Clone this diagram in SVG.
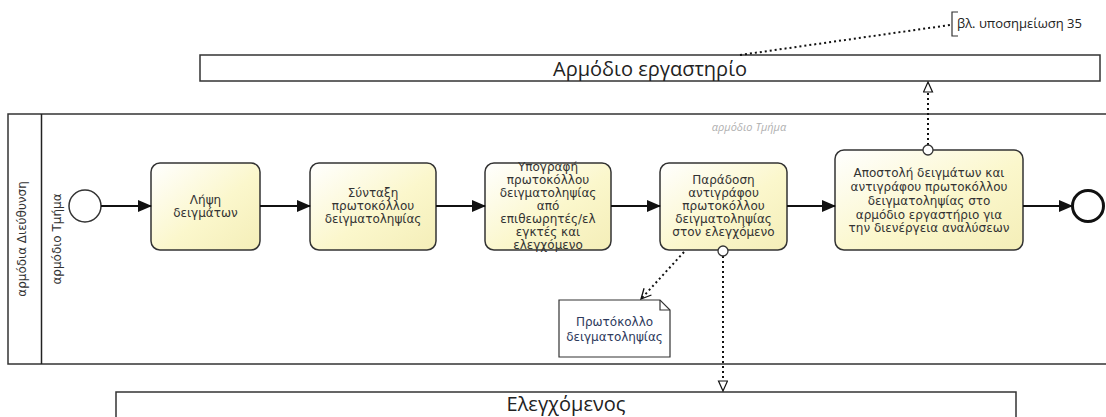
<svg xmlns="http://www.w3.org/2000/svg" width="1106" height="417" viewBox="0 0 1106 417">
<style>
.pool{fill:#fff;stroke:#333;stroke-width:1.5}
.task{fill:url(#tg);stroke:#333;stroke-width:1.5}
.tt{font-family:"DejaVu Sans",Verdana,sans-serif;font-size:12px;fill:#333;text-anchor:middle}
.pt{font-family:"Open Sans","Noto Sans",sans-serif;font-size:20px;fill:#222;text-anchor:middle}
.lt{font-family:"DejaVu Sans",Verdana,sans-serif;font-size:12px;fill:#333;text-anchor:middle}
.flow{fill:none;stroke:#111;stroke-width:2}
.dot{fill:none;stroke:#111;stroke-width:2;stroke-dasharray:2 3}
</style>
<defs>
<linearGradient id="tg" x1="0" y1="0" x2="1" y2="1">
<stop offset="0" stop-color="#ffffff"/>
<stop offset="0.55" stop-color="#fbf7cc"/>
<stop offset="1" stop-color="#f4eeb8"/>
</linearGradient>
<marker id="ah" markerWidth="14" markerHeight="12" refX="13" refY="6" orient="auto" markerUnits="userSpaceOnUse">
<path d="M0,0 L14,6 L0,12 Z" fill="#111"/>
</marker>
<marker id="tri" markerWidth="12" markerHeight="12" refX="11" refY="5" orient="auto" markerUnits="userSpaceOnUse">
<path d="M1,0.5 L11,5 L1,9.5 Z" fill="#fff" stroke="#111" stroke-width="1.2"/>
</marker>
<marker id="vee" markerWidth="12" markerHeight="12" refX="11" refY="6" orient="auto" markerUnits="userSpaceOnUse">
<path d="M1,1 L11,6 L1,11" fill="none" stroke="#111" stroke-width="1.3"/>
</marker>
</defs>

<g id="pool-lab">
<rect class="pool" x="200" y="55" width="900" height="26"/>
<text class="pt" x="650" y="76">Αρμόδιο εργαστηρίο</text>
</g>

<g id="annotation">
<path d="M958,12 L952,12 L952,36 L958,36" fill="none" stroke="#333" stroke-width="1.2"/>
<text x="957" y="28" font-family="'Open Sans','Noto Sans',sans-serif" font-size="13" fill="#222">βλ. υποσημείωση 35</text>
</g>

<g id="pool-main">
<rect class="pool" x="8" y="114" width="1110" height="250"/>
<line x1="41.5" y1="114" x2="41.5" y2="364" stroke="#222" stroke-width="1.5"/>
<text class="lt" transform="translate(26,239) rotate(-90)">αρμόδια Διεύθυνση</text>
<text class="lt" transform="translate(61,239) rotate(-90)">αρμόδιο Τμήμα</text>
<text x="749" y="131" font-family="'Open Sans','Noto Sans',sans-serif" font-size="11" font-style="italic" fill="#b0b0b0" text-anchor="middle">αρμόδιο Τμήμα</text>
</g>

<g id="start">
<circle cx="85" cy="206" r="16" fill="#fff" stroke="#333" stroke-width="1.5"/>
</g>

<g id="t1">
<rect class="task" x="151" y="163" width="109" height="87" rx="9"/>
<text class="tt" x="205.5" y="204">Λήψη</text>
<text class="tt" x="205.5" y="217">δειγμάτων</text>
</g>

<g id="t2">
<rect class="task" x="310" y="163" width="126" height="87" rx="9"/>
<text class="tt" x="373" y="197">Σύνταξη</text>
<text class="tt" x="373" y="210">πρωτοκόλλου</text>
<text class="tt" x="373" y="223">δειγματοληψίας</text>
</g>

<g id="t3">
<rect class="task" x="485" y="163" width="126" height="87" rx="9"/>
<text class="tt" x="548" y="171">Υπογραφή</text>
<text class="tt" x="548" y="184">πρωτοκόλλου</text>
<text class="tt" x="548" y="197">δειγματοληψίας</text>
<text class="tt" x="548" y="210">από</text>
<text class="tt" x="548" y="223">επιθεωρητές/ελ</text>
<text class="tt" x="548" y="236">εγκτές και</text>
<text class="tt" x="548" y="249">ελεγχόμενο</text>
</g>

<g id="t4">
<rect class="task" x="660" y="163" width="127" height="87" rx="9"/>
<text class="tt" x="723.5" y="184">Παράδοση</text>
<text class="tt" x="723.5" y="197">αντιγράφου</text>
<text class="tt" x="723.5" y="210">πρωτοκόλλου</text>
<text class="tt" x="723.5" y="223">δειγματοληψίας</text>
<text class="tt" x="723.5" y="236">στον ελεγχόμενο</text>
</g>

<g id="t5">
<rect class="task" x="835" y="150" width="188" height="100" rx="9"/>
<text class="tt" x="929" y="177">Αποστολή δειγμάτων και</text>
<text class="tt" x="929" y="191">αντιγράφου πρωτοκόλλου</text>
<text class="tt" x="929" y="205">δειγματοληψίας στο</text>
<text class="tt" x="929" y="219">αρμόδιο εργαστήριο για</text>
<text class="tt" x="929" y="232">την διενέργεια αναλύσεων</text>
</g>

<g id="end">
<circle cx="1088" cy="206" r="15.5" fill="#fff" stroke="#111" stroke-width="3"/>
</g>

<g id="data">
<path d="M559,300 L660,300 L670,310 L670,357 L559,357 Z" fill="#fff" stroke="#333" stroke-width="1.2"/>
<path d="M660,300 L660,310 L670,310" fill="none" stroke="#333" stroke-width="1.2"/>
<text x="614.5" y="326" font-family="'DejaVu Sans',Verdana,sans-serif" font-size="12" fill="#2e3a5c" text-anchor="middle">Πρωτόκολλο</text>
<text x="614.5" y="341" font-family="'DejaVu Sans',Verdana,sans-serif" font-size="12" fill="#2e3a5c" text-anchor="middle">δειγματοληψίας</text>
</g>

<g id="pool-controlled">
<rect class="pool" x="116" y="392" width="900" height="40"/>
<text class="pt" x="566" y="411" font-size="19">Ελεγχόμενος</text>
</g>

<g id="connectors">
<line class="flow" x1="101" y1="206" x2="151" y2="206" marker-end="url(#ah)"/>
<line class="flow" x1="260" y1="206" x2="310" y2="206" marker-end="url(#ah)"/>
<line class="flow" x1="436" y1="206" x2="485" y2="206" marker-end="url(#ah)"/>
<line class="flow" x1="611" y1="206" x2="660" y2="206" marker-end="url(#ah)"/>
<line class="flow" x1="787" y1="206" x2="835" y2="206" marker-end="url(#ah)"/>
<line class="flow" x1="1023" y1="206" x2="1072" y2="206" marker-end="url(#ah)"/>
<line class="dot" x1="740" y1="55" x2="950" y2="25"/>
<line class="dot" x1="928" y1="145" x2="928" y2="82" marker-end="url(#tri)"/>
<circle cx="928" cy="150" r="5" fill="#fff" stroke="#333" stroke-width="1.3"/>
<line class="dot" x1="723" y1="256" x2="723" y2="391" marker-end="url(#tri)"/>
<circle cx="723" cy="251" r="5" fill="#fff" stroke="#333" stroke-width="1.3"/>
<line class="dot" x1="684" y1="252" x2="641" y2="299" marker-end="url(#vee)"/>
</g>
</svg>
